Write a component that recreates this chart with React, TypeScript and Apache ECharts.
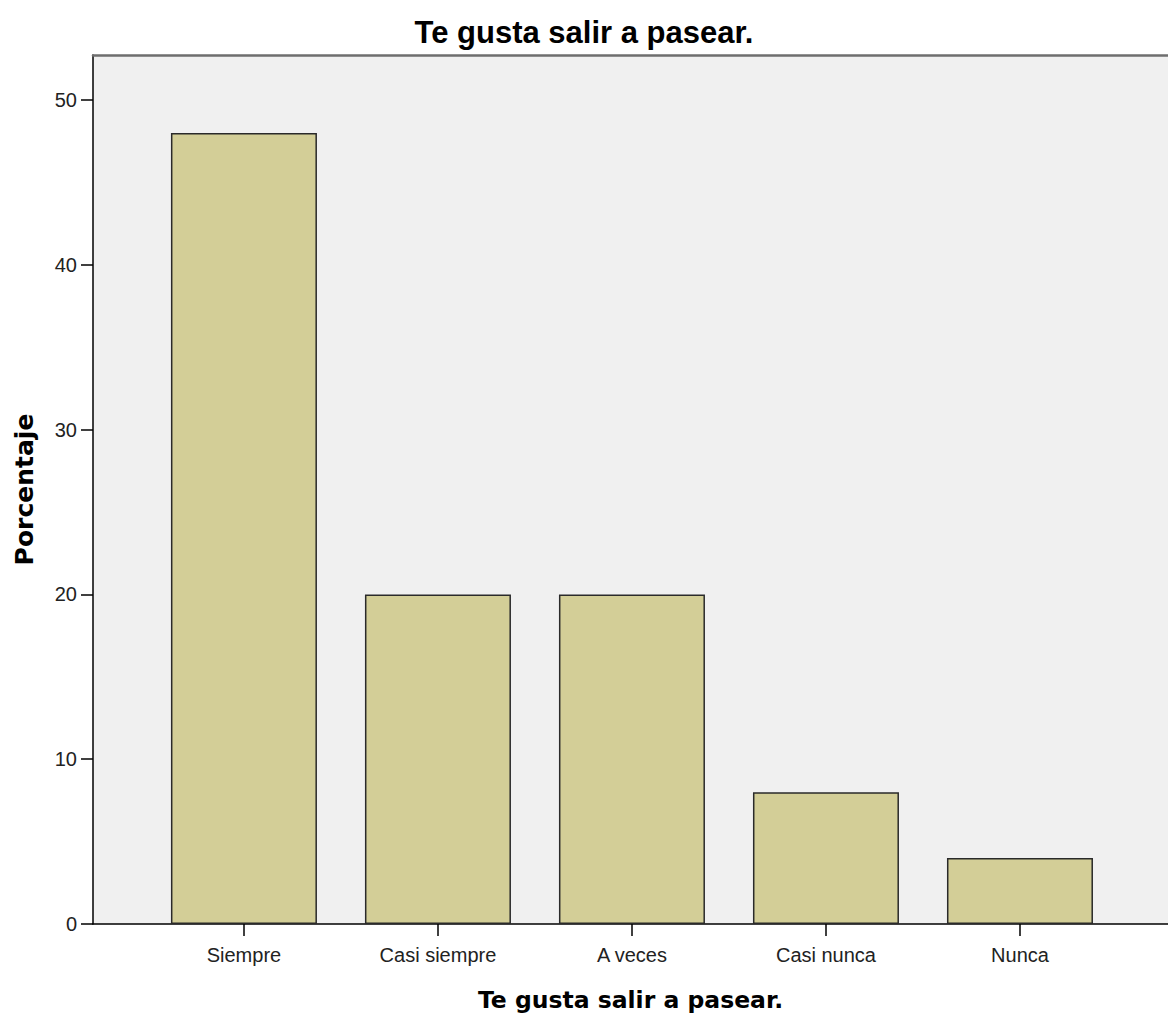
import React, { useEffect, useRef } from "react";
import * as echarts from "echarts";

const categories = ["Siempre", "Casi siempre", "A veces", "Casi nunca", "Nunca"];
const percentages = [48, 20, 20, 8, 4];
const yTicks = [0, 10, 20, 30, 40, 50];
const chartTitle = "Te gusta salir a pasear.";
const xAxisName = "Te gusta salir a pasear.";
const yAxisName = "Porcentaje";

export default function App() {
  const ref = useRef<HTMLDivElement>(null);
  useEffect(() => {
    if (!ref.current) return;
    const chart = echarts.init(ref.current, undefined, { renderer: "svg" });
    const positions = categories.map((_, i) => i + 1);
    const tickFont = "'Liberation Sans', Arial, sans-serif";
    chart.setOption({
      animation: false,
      backgroundColor: "#ffffff",
      title: {
        text: chartTitle,
        left: "center",
        top: 12,
        textStyle: {
          fontFamily: "'Liberation Sans', Arial, sans-serif",
          fontWeight: "bold",
          fontSize: 31,
          color: "#000",
        },
      },
      grid: {
        left: 93,
        right: 0,
        top: 55,
        bottom: 97,
        show: true,
        backgroundColor: "#F0F0F0",
        borderWidth: 0,
      },
      xAxis: [
        {
          type: "value",
          min: 0.222,
          max: 5.763,
          position: "bottom",
          name: xAxisName,
          nameLocation: "middle",
          nameGap: 64,
          nameTextStyle: {
            fontFamily: "'DejaVu Sans', sans-serif",
            fontWeight: "bold",
            fontSize: 23.5,
            color: "#000",
          },
          axisLine: { show: true, onZero: false, lineStyle: { color: "#000", width: 1.5 } },
          axisTick: {
            show: true,
            customValues: positions,
            length: 12,
            lineStyle: { color: "#000", width: 1.5 },
          },
          axisLabel: {
            show: true,
            customValues: positions,
            margin: 21,
            fontFamily: tickFont,
            fontSize: 20,
            color: "#222",
            formatter: (v: number) => categories[Math.round(v) - 1] ?? "",
          },
          splitLine: { show: false },
        },
        {
          type: "value",
          min: 0.222,
          max: 5.763,
          position: "top",
          axisLine: { show: true, onZero: false, lineStyle: { color: "#6e6e6e", width: 2.5 } },
          axisTick: { show: false },
          axisLabel: { show: false },
          splitLine: { show: false },
        },
      ],
      yAxis: {
        type: "value",
        min: 0,
        max: 52.73,
        interval: 10,
        name: yAxisName,
        nameLocation: "middle",
        nameGap: 56,
        nameTextStyle: {
          fontFamily: "'DejaVu Sans', sans-serif",
          fontWeight: "bold",
          fontSize: 25,
          color: "#000",
        },
        axisLine: { show: true, lineStyle: { color: "#000", width: 1.5 } },
        axisTick: {
          show: true,
          customValues: yTicks,
          length: 12,
          lineStyle: { color: "#000", width: 1.5 },
        },
        axisLabel: {
          customValues: yTicks,
          margin: 16,
          fontFamily: tickFont,
          fontSize: 20,
          color: "#222",
        },
        splitLine: { show: false },
      },
      series: [
        {
          type: "bar",
          xAxisIndex: 0,
          data: percentages.map((v, i) => [positions[i], v]),
          barWidth: 146,
          itemStyle: {
            color: "#D3CE97",
            borderColor: "#2a2a2a",
            borderWidth: 1.5,
          },
        },
      ],
    });
    return () => chart.dispose();
  }, []);
  return (
    <div
      ref={ref}
      style={{ position: "absolute", left: 0, top: 0, width: 1168, height: 1021 }}
    />
  );
}
